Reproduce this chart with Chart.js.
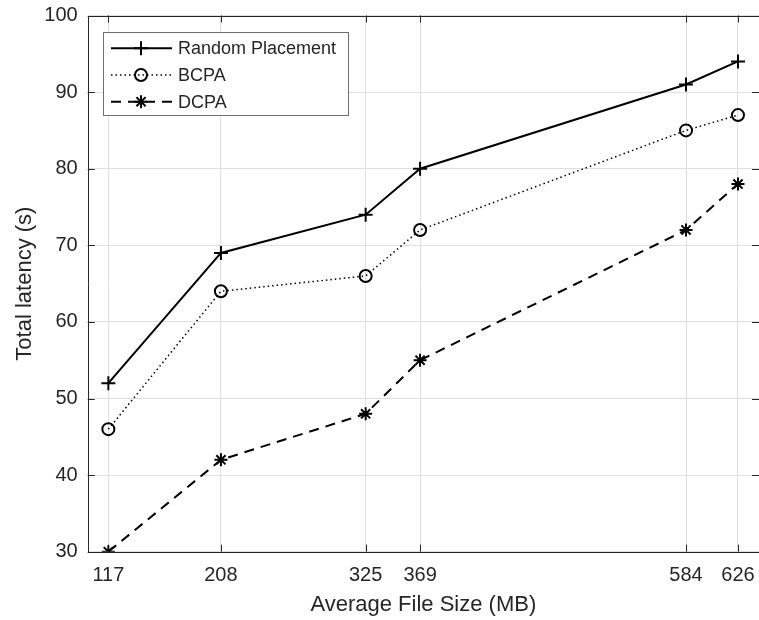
<!DOCTYPE html>
<html>
<head>
<meta charset="utf-8">
<script src="https://cdn.jsdelivr.net/npm/chart.js@4/dist/chart.umd.min.js"></script>
<style>
  html, body { margin: 0; padding: 0; background: #fff; overflow: hidden; }
  #wrap { width: 759px; height: 620px; overflow: hidden; }
</style>
</head>
<body>
<!-- canvas is a bit wider than the window so the axes box runs off the right edge like the original -->
<div id="wrap"><canvas id="chart-latency" width="768" height="620"></canvas></div>
<script>
// values
var fileSizes = [117, 208, 325, 369, 584, 626];
var randomPlacement = [52, 69, 74, 80, 91, 94];
var bcpa = [46, 64, 66, 72, 85, 87];
var dcpa = [30, 42, 48, 55, 72, 78];
var yTicks = [30, 40, 50, 60, 70, 80, 90, 100];
var seriesNames = ['Random Placement', 'BCPA', 'DCPA'];

var axisColor = '#262626';
var gridColor = '#dfdfdf';
var fontFamily = "'Liberation Sans', Arial, sans-serif";

function pts(vals) {
    return fileSizes.map(function (x, i) { return { x: x, y: vals[i] }; });
}

// box + inward tick marks, matlab style
var frame = {
    id: 'frame',
    beforeDatasetsDraw: function (chart) {
        var c = chart.ctx, a = chart.chartArea;
        var xs = chart.scales.x, ys = chart.scales.y;
        c.save();
        c.strokeStyle = axisColor;
        c.lineWidth = 1;
        c.beginPath();
        c.rect(Math.round(a.left) + 0.5, Math.round(a.top) + 0.5, Math.round(a.right - a.left), Math.round(a.bottom - a.top));
        c.stroke();
        c.beginPath();
        fileSizes.forEach(function (v) {
            var px = Math.round(xs.getPixelForValue(v)) + 0.5;
            c.moveTo(px, a.bottom); c.lineTo(px, a.bottom - 7);
            c.moveTo(px, a.top); c.lineTo(px, a.top + 7);
        });
        yTicks.forEach(function (v) {
            var py = Math.round(ys.getPixelForValue(v)) + 0.5;
            c.moveTo(a.left, py); c.lineTo(a.left + 7, py);
            c.moveTo(a.right, py); c.lineTo(a.right - 7, py);
        });
        c.stroke();
        c.restore();
    },
    afterDraw: function (chart) {
        // legend box in the upper left corner
        var c = chart.ctx;
        var bx = 103.5, by = 32.5, bw = 245, bh = 83;
        c.save();
        c.fillStyle = '#fff';
        c.fillRect(bx, by, bw, bh);
        c.strokeStyle = '#6e6e6e';
        c.lineWidth = 1;
        c.strokeRect(bx, by, bw, bh);
        var rows = [48.3, 75, 101.7];
        chart.data.datasets.forEach(function (ds, i) {
            var y = rows[i];
            c.strokeStyle = ds.borderColor;
            c.lineWidth = ds.borderWidth;
            c.setLineDash(ds.borderDash || []);
            c.beginPath();
            c.moveTo(111, y); c.lineTo(172, y);
            c.stroke();
            c.setLineDash([]);
            c.lineWidth = ds.pointBorderWidth;
            c.fillStyle = ds.pointBackgroundColor;
            Chart.helpers.drawPoint(c, {
                pointStyle: ds.pointStyle, radius: ds.pointRadius, rotation: 0,
                borderWidth: ds.pointBorderWidth
            }, 141, y);
            c.fillStyle = axisColor;
            c.font = '18px ' + fontFamily;
            c.textBaseline = 'middle';
            c.textAlign = 'left';
            c.fillText(ds.label, 178, y + 1);
        });
        c.restore();
    }
};

var ctx = document.getElementById('chart-latency').getContext('2d');
var myChart = new Chart(ctx, {
    type: 'line',
    data: {
        datasets: [{
            label: seriesNames[0],
            data: pts(randomPlacement),
            borderColor: '#000',
            borderWidth: 2,
            pointStyle: 'cross',
            pointRadius: 7,
            pointBorderWidth: 2,
            pointBorderColor: '#000',
            pointBackgroundColor: '#000',
            fill: false
        }, {
            label: seriesNames[1],
            data: pts(bcpa),
            borderColor: '#000',
            borderWidth: 1.5,
            borderDash: [1.5, 3],
            pointStyle: 'circle',
            pointRadius: 6,
            pointBorderWidth: 2,
            pointBorderColor: '#000',
            pointBackgroundColor: 'rgba(0,0,0,0)',
            fill: false
        }, {
            label: seriesNames[2],
            data: pts(dcpa),
            borderColor: '#000',
            borderWidth: 2,
            borderDash: [10, 7],
            pointStyle: 'star',
            pointRadius: 6.5,
            pointBorderWidth: 2,
            pointBorderColor: '#000',
            pointBackgroundColor: '#000',
            fill: false
        }]
    },
    options: {
        responsive: false,
        animation: false,
        layout: { padding: { top: 15.5, right: 0, left: 0, bottom: 0 } },
        plugins: { legend: { display: false }, tooltip: { enabled: false } },
        elements: { line: { tension: 0 } },
        scales: {
            x: {
                type: 'linear',
                min: 100.3,
                max: 643,
                afterFit: function (s) { s.height = 68.3; },
                afterBuildTicks: function (s) {
                    s.ticks = fileSizes.map(function (v) { return { value: v }; });
                },
                grid: { color: gridColor, drawTicks: false },
                border: { display: false },
                ticks: {
                    color: axisColor,
                    font: { family: fontFamily, size: 20 },
                    padding: 12,
                    maxRotation: 0,
                    autoSkip: false
                },
                title: {
                    display: true,
                    text: 'Average File Size (MB)',
                    color: axisColor,
                    font: { family: fontFamily, size: 22 },
                    padding: { top: 0, bottom: 2 }
                }
            },
            y: {
                min: 30,
                max: 100,
                afterFit: function (s) { s.width = 87.7; s.paddingTop = 0; s.paddingBottom = 0; },
                afterBuildTicks: function (s) {
                    s.ticks = yTicks.map(function (v) { return { value: v }; });
                },
                grid: { color: gridColor, drawTicks: false },
                border: { display: false },
                ticks: {
                    color: axisColor,
                    font: { family: fontFamily, size: 20 },
                    padding: 10
                },
                title: {
                    display: true,
                    text: 'Total latency (s)',
                    color: axisColor,
                    font: { family: fontFamily, size: 22 },
                    padding: { top: 12, bottom: 0 }
                }
            }
        }
    },
    plugins: [frame]
});
</script>
</body>
</html>
